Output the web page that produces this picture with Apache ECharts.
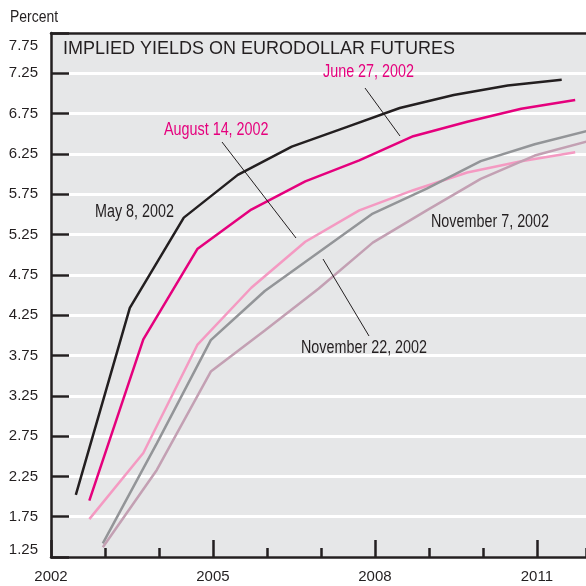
<!DOCTYPE html>
<html>
<head>
<meta charset="utf-8">
<script src="https://cdn.jsdelivr.net/npm/echarts@6/dist/echarts.min.js"></script>
<style>
  html, body { margin: 0; padding: 0; background: #fff; }
  #main { width: 586px; height: 586px; }
</style>
</head>
<body>
<div id="main"></div>
<script>
// contract dates (fractional years) for each curve
const juneContracts = [2002.46, 2003.46, 2004.46, 2005.46, 2006.46, 2007.46, 2008.46, 2009.46, 2010.46, 2011.46];
const septContracts = [2002.71, 2003.71, 2004.71, 2005.71, 2006.71, 2007.71, 2008.71, 2009.71, 2010.71, 2011.71];
const decContracts = [2002.96, 2003.96, 2004.96, 2005.96, 2006.96, 2007.96, 2008.96, 2009.96, 2010.96, 2011.96];

// implied yields, percent
const may8 = [2.02, 4.34, 5.46, 5.99, 6.34, 6.58, 6.82, 6.98, 7.10, 7.17];
const june27 = [1.95, 3.95, 5.07, 5.56, 5.91, 6.17, 6.47, 6.65, 6.81, 6.92];
const aug14 = [1.72, 2.54, 3.88, 4.59, 5.16, 5.55, 5.80, 6.02, 6.16, 6.27];
const nov7 = [1.42, 2.66, 3.94, 4.55, 5.03, 5.51, 5.82, 6.16, 6.37, 6.54];
const nov22 = [1.37, 2.33, 3.55, 4.06, 4.58, 5.15, 5.55, 5.94, 6.23, 6.41];

const yearLabels = [2002, 2005, 2008, 2011];

const SANS = '"Liberation Sans", Arial, sans-serif';
const INK = '#231f20';

const pairs = (xs, ys) => xs.map((x, i) => [x, ys[i]]);

const lineSeries = (name, xs, ys, color) => ({
  name: name,
  type: 'line',
  xAxisIndex: 0,
  symbol: 'none',
  lineStyle: { color: color, width: 2.5 },
  data: pairs(xs, ys)
});

const chart = echarts.init(document.getElementById('main'));

// narrow type: regular sans squeezed horizontally
const label = (text, x, y, color, size) => ({
  type: 'text',
  x: x,
  y: y,
  scaleX: 0.82,
  z: 10,
  style: { text: text, fill: color, font: (size || 17.5) + 'px ' + SANS, textVerticalAlign: 'middle' }
});

const leader = (x1, y1, x2, y2) => ({
  type: 'line',
  shape: { x1: x1, y1: y1, x2: x2, y2: y2 },
  style: { stroke: INK, lineWidth: 1 },
  z: 10
});

chart.setOption({
  animation: false,
  grid: {
    left: 51, top: 33, right: 0, bottom: 29,
    show: true, backgroundColor: '#e6e7e8', borderWidth: 0
  },
  xAxis: [
    {
      type: 'value', position: 'bottom', min: 2002, max: 2011.91, interval: 3,
      axisLine: { lineStyle: { color: INK, width: 2.5 } },
      axisTick: { inside: true, length: 17, lineStyle: { color: INK, width: 2.5 } },
      axisLabel: {
        color: INK, fontFamily: SANS, fontSize: 15, margin: 12,
        showMaxLabel: false,
        formatter: v => yearLabels.includes(Math.round(v)) && Math.abs(v - Math.round(v)) < 0.01 ? String(Math.round(v)) : ''
      },
      splitLine: { show: false }
    },
    {
      type: 'value', position: 'bottom', offset: 0, min: 2002, max: 2011.91, interval: 1,
      axisLine: { show: false },
      axisTick: { inside: true, length: 9, lineStyle: { color: INK, width: 2.5 } },
      axisLabel: { show: false },
      splitLine: { show: false }
    },
    {
      type: 'value', position: 'top', min: 2002, max: 2011.91,
      axisLine: { lineStyle: { color: INK, width: 2.5 } },
      axisTick: { show: false },
      axisLabel: { show: false },
      splitLine: { show: false }
    }
  ],
  yAxis: {
    type: 'value', min: 1.25, max: 7.75, interval: 0.5,
    axisLine: { show: true, lineStyle: { color: INK, width: 2.5 } },
    axisTick: { show: true, inside: true, length: 18, lineStyle: { color: INK, width: 2.5 } },
    axisLabel: {
      color: INK, fontFamily: SANS, fontSize: 15, margin: 13,
      padding: [5, 0, 0, 0],
      verticalAlignMaxLabel: 'top',
      verticalAlignMinLabel: 'bottom',
      formatter: v => v.toFixed(2)
    },
    splitLine: { lineStyle: { color: '#ffffff', width: 3 } }
  },
  series: [
    lineSeries('May 8, 2002', juneContracts, may8, INK),
    lineSeries('June 27, 2002', septContracts, june27, '#e5007d'),
    lineSeries('August 14, 2002', septContracts, aug14, '#f49ac2'),
    lineSeries('November 7, 2002', decContracts, nov7, '#939598'),
    lineSeries('November 22, 2002', decContracts, nov22, '#c3a0b3')
  ],
  graphic: [
    label('Percent', 10, 17, INK, 17),
    {
      type: 'text', x: 63, y: 49, z: 10,
      style: { text: 'IMPLIED YIELDS ON EURODOLLAR FUTURES', fill: INK, font: '18px ' + SANS, textVerticalAlign: 'middle' }
    },
    label('May 8, 2002', 95, 212, INK),
    label('June 27, 2002', 323, 72, '#e5007d'),
    label('August 14, 2002', 164, 130, '#e5007d'),
    label('November 7, 2002', 431, 222, INK),
    label('November 22, 2002', 301, 348, INK),
    leader(365, 88, 400, 136),
    leader(222, 142, 296, 238),
    leader(323, 259, 369, 336)
  ]
});

window.onresize = () => {
  chart.resize();
};
</script>
</body>
</html>
